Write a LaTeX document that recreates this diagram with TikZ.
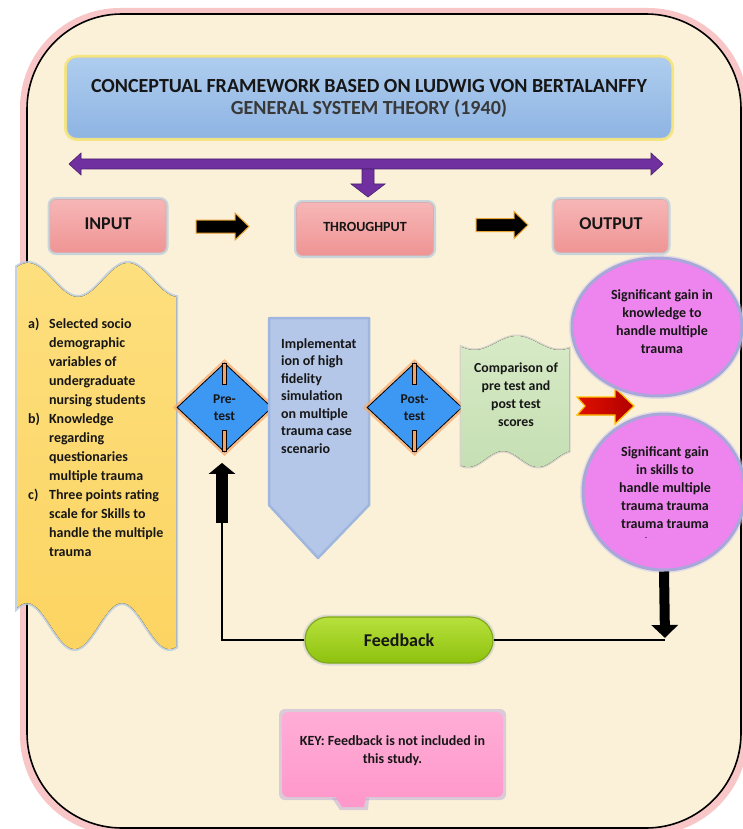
\documentclass[tikz,border=0pt]{standalone}
\usepackage{fontspec}
\setmainfont{Carlito}
\usetikzlibrary{shapes.geometric,arrows.meta,calc}
\definecolor{bgcream}{HTML}{FBF1D9}
\definecolor{pinkglow}{HTML}{F4A0A0}
\definecolor{titletop}{HTML}{AECDEE}
\definecolor{titlebot}{HTML}{8EB4E3}
\definecolor{yellowglow}{HTML}{F3E36A}
\definecolor{purplearr}{HTML}{7030A0}
\definecolor{purpledark}{HTML}{4B2070}
\definecolor{pinkbox}{HTML}{EF9494}
\definecolor{pinkboxtop}{HTML}{F7B6B6}
\definecolor{boxglow}{HTML}{B5C9DD}
\definecolor{yellowbox}{HTML}{FCD462}
\definecolor{yellowtop}{HTML}{FDDF7E}
\definecolor{diamondblue}{HTML}{3C98F2}
\definecolor{orangeglow}{HTML}{F8AA6C}
\definecolor{barorange}{HTML}{F4A460}
\definecolor{lavender}{HTML}{B4C7E8}
\definecolor{lavenderedge}{HTML}{9FB6DE}
\definecolor{greenbox}{HTML}{C6DFB3}
\definecolor{greentop}{HTML}{D6EAC6}
\definecolor{violetfill}{HTML}{EE84EE}
\definecolor{violetglow}{HTML}{A9A6DA}
\definecolor{limetop}{HTML}{B7E03C}
\definecolor{limebot}{HTML}{8EC20E}
\definecolor{limedark}{HTML}{7FA81A}
\definecolor{keypink}{HTML}{FF99CC}
\definecolor{keyglow}{HTML}{B9A6D6}
\definecolor{textcol}{HTML}{161616}
\definecolor{arrowedge}{HTML}{E8A030}
\definecolor{redarr}{HTML}{E01000}
\definecolor{reddark}{HTML}{B00000}
\definecolor{yelledge}{HTML}{FFC000}
\begin{document}
\begin{tikzpicture}[x=1pt,y=-1pt,
  txt/.style={font=\fontsize{14}{17.5}\selectfont\bfseries, text=textcol, inner sep=0pt},
  pinkstage/.style={rounded corners=6pt, minimum width=#1, minimum height=53pt,
    top color=pinkboxtop, bottom color=pinkbox, draw=pinkbox!80!black!60,
    line width=0.6pt, preaction={draw=boxglow, line width=5pt, draw opacity=0.7},
    font=\fontsize{18}{20}\selectfont\bfseries, text=textcol, inner sep=0pt},
  blockarrow/.style={fill=black, draw=arrowedge, line width=1pt, line join=miter},
  decision/.style={diamond, minimum width=95pt, minimum height=89pt, inner sep=0pt,
    fill=diamondblue, draw=black, line width=0.8pt,
    preaction={draw=orangeglow, line width=6pt, draw opacity=0.75},
    font=\fontsize{13.5}{17}\selectfont\bfseries, text=textcol, align=center},
  tab/.style={fill=barorange, draw=black, line width=0.5pt},
  result/.style={ellipse, fill=violetfill, draw=violetglow, line width=3pt,
    preaction={draw=violetglow!60, line width=6pt, draw opacity=0.5}},
  connector/.style={draw=black, line width=1.8pt},
  bigarrow/.style={draw=black, line width=#1}
]
\useasboundingbox (0,0) rectangle (742,829);
\fill[white] (0,0) rectangle (742,829);
% outer frame
\draw[pinkglow, line width=10pt, opacity=0.6, rounded corners=95pt] (25,13) rectangle (743,830);
\filldraw[fill=bgcream, draw=black, line width=1.6pt, rounded corners=95pt] (27,14) rectangle (741,828);

% title
\node[rounded corners=10pt, minimum width=604pt, minimum height=80pt,
  top color=titletop, bottom color=titlebot, draw=titlebot!80!black!50, line width=0.5pt,
  preaction={draw=yellowglow, line width=6pt, draw opacity=0.8},
  font=\fontsize{20}{22}\selectfont\bfseries, text=textcol, align=center, inner sep=0pt]
  (title) at (369,98) {CONCEPTUAL FRAMEWORK BASED ON LUDWIG VON BERTALANFFY\\
  \textcolor{textcol!85}{GENERAL SYSTEM THEORY (1940)}};

% purple arrows
\filldraw[fill=purplearr, draw=purpledark, line width=0.6pt]
  (69,164) -- (81,153) -- (81,159) -- (651,159) -- (651,153) -- (663,164)
  -- (651,175) -- (651,169) -- (81,169) -- (81,175) -- cycle;
\filldraw[fill=purplearr, draw=purpledark, line width=0.6pt]
  (362,169) -- (362,184) -- (351,184) -- (368,197) -- (385,184) -- (374,184) -- (374,169) -- cycle;

% stage boxes
\node[pinkstage=116pt] (input) at (108,226) {\raisebox{4pt}{INPUT}};
\node[pinkstage=137pt, font=\fontsize{14}{16}\selectfont\bfseries] (through) at (365,229) {\raisebox{5pt}{THROUGHPUT}};
\node[pinkstage=114pt] (output) at (611,226) {\raisebox{4pt}{OUTPUT}};

\draw[blockarrow] (196,220) -- (235,220) -- (235,213) -- (249,226.5) -- (235,240) -- (235,233) -- (196,233) -- cycle;
\draw[blockarrow] (476,218.5) -- (514,218.5) -- (514,211.5) -- (528,225) -- (514,238.5) -- (514,231.5) -- (476,231.5) -- cycle;

% input wave box
\draw[boxglow, line width=4pt, opacity=0.8]
  plot[domain=17:176, samples=60, smooth] (\x,{280-17*cos(3.6*(\x-28))})
  -- plot[domain=176:17, samples=60, smooth] (\x,{626-23*cos(3.7895*(\x-27))}) -- cycle;
\fill[top color=yellowtop, bottom color=yellowbox]
  plot[domain=17:176, samples=60, smooth] (\x,{280-17*cos(3.6*(\x-28))})
  -- plot[domain=176:17, samples=60, smooth] (\x,{626-23*cos(3.7895*(\x-27))}) -- cycle;
\node[txt, font=\fontsize{14}{19}\selectfont\bfseries, align=left, anchor=north west] (inp) at (28,318)
  {\makebox[21pt][l]{a)}Selected socio\\
   \hspace*{21pt}demographic\\
   \hspace*{21pt}variables of\\
   \hspace*{21pt}undergraduate\\
   \hspace*{21pt}nursing students\\
   \makebox[21pt][l]{b)}Knowledge\\
   \hspace*{21pt}regarding\\
   \hspace*{21pt}questionaries\\
   \hspace*{21pt}multiple trauma\\
   \makebox[21pt][l]{c)}Three points rating\\
   \hspace*{21pt}scale for Skills to\\
   \hspace*{21pt}handle the multiple\\
   \hspace*{21pt}trauma};

% pre-test diamond
\node[decision] (pre) at (224.5,407.5) {Pre-\\test};
\filldraw[tab] (222.7,363.5) rectangle (226.3,384);
\filldraw[tab] (222.7,430) rectangle (226.3,451.5);

% implementation pentagon
\draw[lavenderedge, line width=2.5pt, fill=lavender, line join=round]
  (269,318) -- (369,318) -- (369,505) -- (318,558) -- (269,505) -- cycle;
\node[txt, align=left, anchor=west] (impl) at (281,396)
  {Implementat\\ion of high\\fidelity\\simulation\\on multiple\\trauma case\\scenario};

% post-test diamond
\node[decision] (post) at (414.5,407.5) {Post-\\test};
\filldraw[tab] (412.7,363.5) rectangle (416.3,384);
\filldraw[tab] (412.7,430) rectangle (416.3,451.5);

% comparison wave box
\draw[gray!50, line width=3pt, opacity=0.6]
  plot[domain=461:569, samples=50, smooth] (\x,{343-7*cos(4.2353*(\x-517))})
  -- plot[domain=569:461, samples=50, smooth] (\x,{459+8*cos(5.1429*(\x-538))}) -- cycle;
\fill[top color=greentop, bottom color=greenbox]
  plot[domain=461:569, samples=50, smooth] (\x,{343-7*cos(4.2353*(\x-517))})
  -- plot[domain=569:461, samples=50, smooth] (\x,{459+8*cos(5.1429*(\x-538))}) -- cycle;
\node[txt, font=\fontsize{13.8}{18}\selectfont\bfseries, align=center] (comp) at (516,395)
  {Comparison of\\pre test and\\post test\\scores};

% red arrow
\filldraw[left color=redarr, right color=reddark, draw=yelledge, line width=1.2pt, line join=miter]
  (577,397) -- (615,397) -- (615,388) -- (634,406) -- (615,424) -- (615,415) -- (577,415) -- (585,406) -- cycle;

% result ellipses
\node[result, minimum width=170pt, minimum height=138pt] (ell1) at (657,327) {};
\node[txt, font=\fontsize{14}{18}\selectfont\bfseries, align=center] at (662,322)
  {Significant gain in\\knowledge to\\handle multiple\\trauma};
\node[result, minimum width=162pt, minimum height=156pt] (ell2) at (664,492) {};
\node[txt, font=\fontsize{14}{18}\selectfont\bfseries, align=center] at (665,488)
  {Significant gain\\in skills to\\handle multiple\\trauma trauma\\trauma trauma};
\begin{scope}
  \clip (590,400) rectangle (740,537);
  \node[txt, font=\fontsize{14}{18}\selectfont\bfseries] at (665,542) {trauma};
\end{scope}

% feedback
\node[rounded corners=23pt, minimum width=188pt, minimum height=46pt,
  top color=limetop, bottom color=limebot, draw=limedark, line width=1.2pt,
  preaction={draw=gray!40, line width=5pt, draw opacity=0.6},
  font=\fontsize{18}{20}\selectfont\bfseries, text=textcol, inner sep=0pt]
  (fb) at (399,640) {Feedback};

\coordinate (upbase) at (222,523);
\coordinate (dn) at (665,638);
\draw[connector] (fb.west) -| (upbase);
\draw[bigarrow=12pt, -{Triangle[width=26pt,length=11pt]}] (upbase) -- ($(pre.south)+(-2.5,10.5)$);
\draw[bigarrow=10pt, -{Triangle[width=26pt,length=13pt]}] (ell2.south) -- (dn);
\draw[connector] (fb.east) -- (dn |- fb.east);

% key
\fill[keyglow, opacity=0.5, rounded corners=6pt] (279,709) rectangle (506,800);
\fill[keyglow, opacity=0.5] (332,798) -- (340,810) -- (368,810) -- (369,798) -- cycle;
\node[rounded corners=6pt, minimum width=221pt, minimum height=85pt,
  top color=keypink!80!white, bottom color=keypink, inner sep=0pt] (key) at (392.5,754.5) {};
\fill[keypink] (335,796) -- (342,807) -- (364,807) -- (366,796) -- cycle;
\node[txt, font=\fontsize{14}{18}\selectfont\bfseries, align=center] (keytext) at (392.5,751)
  {KEY: Feedback is not included in\\this study.};
\end{tikzpicture}
\end{document}
